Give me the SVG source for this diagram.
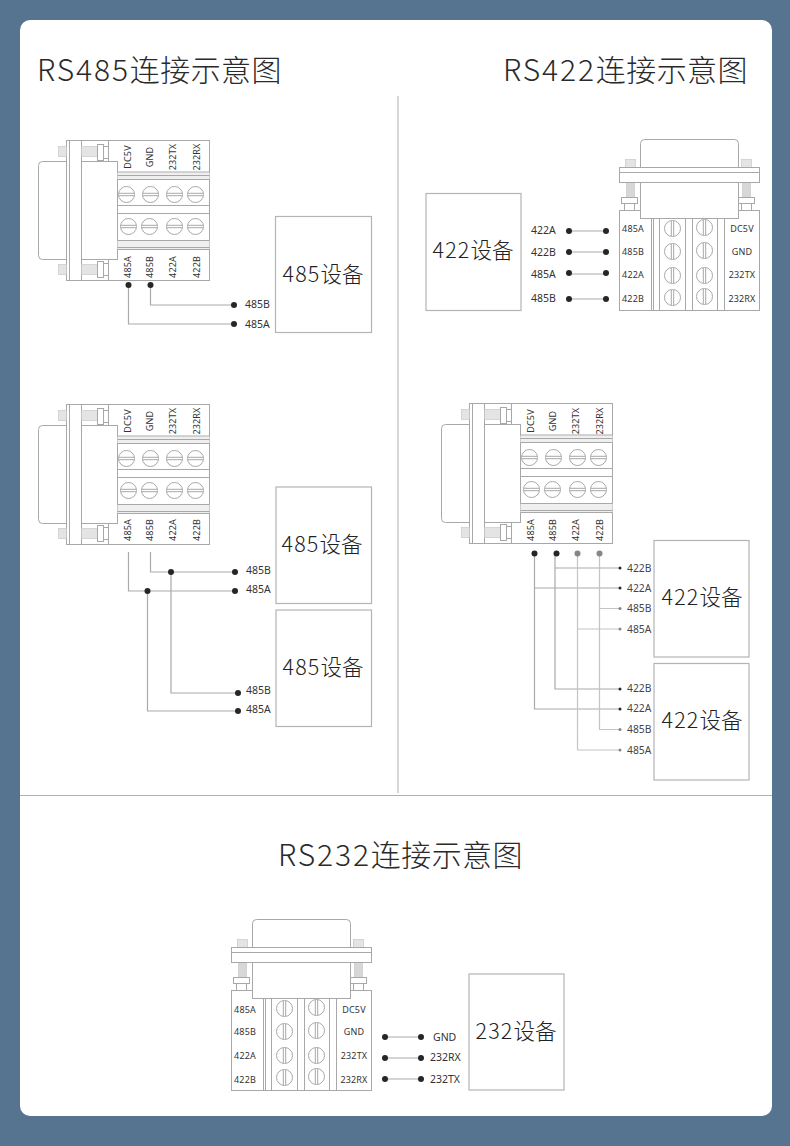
<svg xmlns="http://www.w3.org/2000/svg" width="790" height="1146" viewBox="0 0 790 1146">
<style>
.ln{fill:none;stroke:#a8a8a8;stroke-width:1}
.bx{fill:#fff;stroke:#a8a8a8;stroke-width:1}
.ht{stroke:#c4c4c4;stroke-width:.6}
.dv{fill:#fff;stroke:#b4b4b4;stroke-width:1.2}
.wd{fill:none;stroke:#aaa;stroke-width:1.2}
.wl{fill:none;stroke:#c4c4c4;stroke-width:1.2}
.d{fill:#262626}
.g{fill:#868686}
text{font-family:"Noto Sans","Noto Sans CJK SC",sans-serif;fill:#333}
.t{font-family:"Noto Sans CJK SC",sans-serif;font-size:30px;font-weight:300;fill:#2a2a2a;letter-spacing:.4px}
.t tspan{letter-spacing:1.9px}
.n{font-family:"Noto Sans CJK SC",sans-serif;font-size:21.500px;font-weight:300;fill:#222;text-anchor:middle}
.n tspan{letter-spacing:1.100px}
.l{font-size:10.500px}
.k{font-size:9px;text-anchor:middle;letter-spacing:.15px}
.m{font-size:10.300px;fill:#444}
</style>
<defs>
<pattern id="hh" width="2" height="2" patternUnits="userSpaceOnUse"><rect width="2" height="2" fill="#fff"/><path d="M0 2L2 0" stroke="#b0b0b0" stroke-width=".7"/></pattern>
<pattern id="hv" width="2" height="2" patternUnits="userSpaceOnUse"><rect width="2" height="2" fill="#eee"/><path d="M0 1H2" stroke="#aaa" stroke-width=".7"/></pattern>
<g id="sc"><circle r="8" class="bx"/><path d="M-7.600-1.200H7.600M-7.600 1.200H7.600" class="ln"/></g>
<g id="sv"><circle r="8" class="bx"/><path d="M-1.200-7.600V7.600M1.200-7.600V7.600" class="ln"/></g>
<g id="conh">
<path d="M0 21H-24q-4 0-4 4V115q0 4 4 4H0" class="bx"/>
<rect width="143" height="140" class="bx"/>
<path d="M3 0V140M15 0V140M42 0V21M42 119V140" class="ln"/>
<rect x="15" y="21" width="36" height="98" class="bx"/>
<rect x="51" y="32" width="92" height="7" fill="#efefef"/>
<rect x="51" y="100" width="92" height="9" fill="#efefef"/>
<path d="M51 31.500H143M51 35H143M51 39H143M51 65H143M51 73H143M51 100H143M51 107H143M51 109H143" class="ln"/>
<rect x="-8" y="6" width="8" height="10" fill="url(#hh)" class="ht"/>
<rect x="15" y="6" width="16" height="10" fill="url(#hh)" class="ht"/>
<rect x="31" y="4" width="6" height="16" class="bx"/>
<rect x="37" y="6" width="5" height="12" class="bx"/>
<rect x="-8" y="124" width="8" height="10" fill="url(#hh)" class="ht"/>
<rect x="15" y="124" width="16" height="10" fill="url(#hh)" class="ht"/>
<rect x="31" y="121" width="6" height="16" class="bx"/>
<rect x="37" y="123" width="5" height="12" class="bx"/>
<use href="#sc" x="60" y="54"/><use href="#sc" x="84" y="54"/><use href="#sc" x="108" y="54"/><use href="#sc" x="129" y="54"/>
<use href="#sc" x="62" y="86"/><use href="#sc" x="83" y="86"/><use href="#sc" x="108" y="86"/><use href="#sc" x="129" y="86"/>
</g>
<g id="conv">
<path d="M21 28V4q0-4 4-4H115q4 0 4 4V28" class="bx"/>
<rect y="71" width="140" height="100" class="bx"/>
<rect x="6" y="20" width="10" height="8" fill="url(#hh)" class="ht"/>
<rect x="122" y="20" width="10" height="8" fill="url(#hh)" class="ht"/>
<rect x="7" y="43" width="8" height="15" fill="url(#hv)" class="ht"/>
<rect x="123" y="43" width="8" height="15" fill="url(#hv)" class="ht"/>
<rect x="2" y="58" width="16" height="6" class="bx"/>
<rect x="119" y="58" width="16" height="6" class="bx"/>
<rect x="5" y="64" width="10" height="7" class="bx"/>
<rect x="122" y="64" width="10" height="7" class="bx"/>
<rect y="28" width="140" height="15" class="bx"/>
<path d="M0 33H140" class="ln"/>
<rect x="21" y="43" width="98" height="36" class="bx"/>
<path d="M32 79V171M34 79V171M40 79V171M66 79V171M73 79V171M98 79V171M105 79V171" class="ln"/>
<use href="#sv" x="53" y="89"/><use href="#sv" x="85" y="88"/><use href="#sv" x="53" y="112"/><use href="#sv" x="85" y="111"/>
<use href="#sv" x="53" y="136"/><use href="#sv" x="85" y="136"/><use href="#sv" x="53" y="158"/><use href="#sv" x="85" y="157"/>
</g>
</defs>

<rect id="background" width="790" height="1146" fill="#567490"/>
<rect id="panel" x="20" y="20" width="752" height="1096" rx="10" fill="#fff"/>
<path id="dividers" d="M398 96V793M20 795.500H772" fill="none" stroke="#b0b0b0" stroke-width="1"/>

<g id="titles">
<text class="t" x="37" y="81"><tspan>RS485</tspan>连接示意图</text>
<text class="t" x="503" y="81"><tspan>RS422</tspan>连接示意图</text>
<text class="t" x="278" y="866"><tspan>RS232</tspan>连接示意图</text>
</g>

<g id="connectors">
<path class="wd" d="M128.500 285V324H234M150.500 285V305H234"/>
<circle class="d" cx="128.500" cy="285" r="3"/><circle class="d" cx="150.500" cy="285" r="3"/>
<circle class="d" cx="234" cy="305" r="3"/><circle class="d" cx="234" cy="324" r="3"/>

<path class="wd" d="M569 231H606M569 252H606M569 274H606M569 299H606"/>
<circle class="d" cx="569" cy="231" r="3"/><circle class="d" cx="606" cy="231" r="3"/>
<circle class="d" cx="569" cy="252" r="3"/><circle class="d" cx="606" cy="252" r="3"/>
<circle class="d" cx="569" cy="273" r="3"/><circle class="d" cx="606" cy="273" r="3"/>
<circle class="d" cx="569" cy="299" r="3"/><circle class="d" cx="606" cy="299" r="3"/>

<path class="wd" d="M128.500 552V591H235M150.500 552V572H235M171 572V693H238M147.500 591V711H238"/>
<circle class="d" cx="171" cy="572" r="3"/><circle class="d" cx="147.500" cy="591" r="3"/>
<circle class="d" cx="235" cy="572" r="3"/><circle class="d" cx="235" cy="591" r="3"/>
<circle class="d" cx="238" cy="693" r="3"/><circle class="d" cx="238" cy="711" r="3"/>

<path class="wd" d="M534.500 553V709H620M535 588H620M555 553V689H620M555 568H620"/>
<path class="wl" d="M577.500 553V750H620M577.500 629H620M599.500 553V729.500H620M599.500 608.500H620"/>
<circle class="d" cx="534.500" cy="553.500" r="3"/><circle class="d" cx="556.500" cy="553.500" r="3"/>
<circle class="g" cx="577.500" cy="553.500" r="3"/><circle class="g" cx="599.500" cy="553.500" r="3"/>
<circle class="d" cx="620" cy="568" r="1.500"/><circle class="d" cx="620" cy="588" r="1.500"/>
<circle class="g" cx="620" cy="608.500" r="1.500"/><circle class="g" cx="620" cy="629" r="1.500"/>
<circle class="d" cx="620" cy="689" r="1.500"/><circle class="d" cx="620" cy="709" r="1.500"/>
<circle class="g" cx="620" cy="729.500" r="1.500"/><circle class="g" cx="620" cy="750" r="1.500"/>

<path class="wd" d="M385 1037H421M385 1058H421M385 1079H421"/>
<circle class="d" cx="385" cy="1037" r="3"/><circle class="d" cx="421" cy="1037" r="3"/>
<circle class="d" cx="385" cy="1058" r="3"/><circle class="d" cx="421" cy="1058" r="3"/>
<circle class="d" cx="385" cy="1079" r="3"/><circle class="d" cx="421" cy="1079" r="3"/>
</g>

<g id="wire-labels">
<text class="l" x="245" y="308">485B</text><text class="l" x="245" y="328">485A</text>
<text class="l" x="531" y="234">422A</text><text class="l" x="531" y="256">422B</text><text class="l" x="531" y="278">485A</text><text class="l" x="531" y="302">485B</text>
<text class="l" x="246" y="574">485B</text><text class="l" x="246" y="593">485A</text><text class="l" x="246" y="694">485B</text><text class="l" x="246" y="713">485A</text>
<text class="m" x="627" y="572">422B</text><text class="m" x="627" y="592">422A</text><text class="m" x="627" y="612">485B</text><text class="m" x="627" y="633">485A</text>
<text class="m" x="627" y="692">422B</text><text class="m" x="627" y="712">422A</text><text class="m" x="627" y="733">485B</text><text class="m" x="627" y="754">485A</text>
<text class="l" x="433" y="1041">GND</text><text class="l" x="430" y="1061">232RX</text><text class="l" x="430" y="1083">232TX</text>
</g>

<g id="connector-1"><use href="#conh" x="66.500" y="140.500"/>
<text class="k" transform="translate(131 157) rotate(-90)">DC5V</text><text class="k" transform="translate(153 157) rotate(-90)">GND</text><text class="k" transform="translate(176 157) rotate(-90)">232TX</text><text class="k" transform="translate(200 157) rotate(-90)">232RX</text>
<text class="k" transform="translate(131 267) rotate(-90)">485A</text><text class="k" transform="translate(153 267) rotate(-90)">485B</text><text class="k" transform="translate(176 267) rotate(-90)">422A</text><text class="k" transform="translate(200 267) rotate(-90)">422B</text></g>

<g id="connector-2"><use href="#conh" x="66.500" y="404.500"/>
<text class="k" transform="translate(131 421) rotate(-90)">DC5V</text><text class="k" transform="translate(153 421) rotate(-90)">GND</text><text class="k" transform="translate(176 421) rotate(-90)">232TX</text><text class="k" transform="translate(200 421) rotate(-90)">232RX</text>
<text class="k" transform="translate(131 530) rotate(-90)">485A</text><text class="k" transform="translate(153 530) rotate(-90)">485B</text><text class="k" transform="translate(176 530) rotate(-90)">422A</text><text class="k" transform="translate(200 530) rotate(-90)">422B</text></g>

<g id="connector-3"><use href="#conh" x="469.500" y="403.500"/>
<text class="k" transform="translate(534 421) rotate(-90)">DC5V</text><text class="k" transform="translate(556 421) rotate(-90)">GND</text><text class="k" transform="translate(579 421) rotate(-90)">232TX</text><text class="k" transform="translate(603 421) rotate(-90)">232RX</text>
<text class="k" transform="translate(534 530) rotate(-90)">485A</text><text class="k" transform="translate(556 530) rotate(-90)">485B</text><text class="k" transform="translate(579 530) rotate(-90)">422A</text><text class="k" transform="translate(603 530) rotate(-90)">422B</text></g>

<g id="connector-4"><use href="#conv" x="619.500" y="139.500"/>
<text class="k" x="633" y="232">485A</text><text class="k" x="633" y="255">485B</text><text class="k" x="633" y="278">422A</text><text class="k" x="633" y="302">422B</text>
<text class="k" x="742" y="232">DC5V</text><text class="k" x="742" y="255">GND</text><text class="k" x="742" y="278">232TX</text><text class="k" x="742" y="302">232RX</text></g>

<g id="connector-5"><use href="#conv" x="231.500" y="919.500"/>
<text class="k" x="245" y="1013">485A</text><text class="k" x="245" y="1035">485B</text><text class="k" x="245" y="1059">422A</text><text class="k" x="245" y="1083">422B</text>
<text class="k" x="354" y="1013">DC5V</text><text class="k" x="354" y="1035">GND</text><text class="k" x="354" y="1059">232TX</text><text class="k" x="354" y="1083">232RX</text></g>

<g id="device-485-a"><rect class="dv" x="275.500" y="216.500" width="96" height="116"/><text class="n" x="323" y="282"><tspan>485</tspan>设备</text></g>
<g id="device-422-a"><rect class="dv" x="426" y="193.500" width="95" height="117"/><text class="n" x="473" y="258"><tspan>422</tspan>设备</text></g>
<g id="device-485-b"><rect class="dv" x="276" y="487" width="95.500" height="116.500"/><text class="n" x="322" y="552"><tspan>485</tspan>设备</text></g>
<g id="device-485-c"><rect class="dv" x="276" y="610" width="95.500" height="116.500"/><text class="n" x="323" y="675"><tspan>485</tspan>设备</text></g>
<g id="device-422-b"><rect class="dv" x="654" y="540.500" width="95" height="116.500"/><text class="n" x="702" y="605"><tspan>422</tspan>设备</text></g>
<g id="device-422-c"><rect class="dv" x="654" y="663.500" width="95" height="116.500"/><text class="n" x="702" y="728"><tspan>422</tspan>设备</text></g>
<g id="device-232"><rect class="dv" x="469" y="974" width="95" height="116"/><text class="n" x="516" y="1039"><tspan>232</tspan>设备</text></g>
</svg>
